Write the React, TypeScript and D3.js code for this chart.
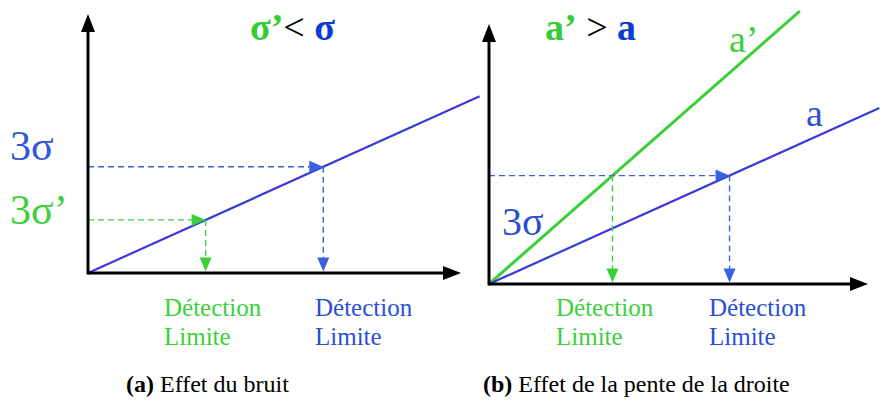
import React from 'react';
import * as d3 from 'd3';

// concentration (x) and signal (y), arbitrary units 0..10
const xDomain = [0, 10];
const yDomain = [0, 10];

// panel (a): effect of noise
const slopeA = 0.65;
const lineEndA = 10.5;
const noiseLevels = [
  { name: '3σ', value: 4.1, color: '#2f57d9' },
  { name: '3σ’', value: 2.05, color: '#3ccf3c' },
];

// panel (b): effect of the slope
const slopes = [
  { name: 'a’', value: 1.28, end: 8.2, color: '#3ccf3c', labelColor: '#3ccf3c' },
  { name: 'a', value: 0.657, end: 10.3, color: '#3a3ad6', labelColor: '#2a4fd0' },
];
const noiseB = 4.17;

const detectionLines = ['Détection', 'Limite'];
const captions = ['Effet du bruit', 'Effet de la pente de la droite'];
const captionTags = ['(a)', '(b)'];

const BLACK = '#000';
const DASH_BLUE = '#3a62e0';
const DASH_GREEN = '#3ccf3c';
const LINE_BLUE = '#3a3ad6';

function Axes({ x, y }) {
  const x0 = x(0), y0 = y(0);
  const x1 = x(xDomain[1]), y1 = y(yDomain[1]);
  return (
    <g>
      <line x1={x0} y1={y0} x2={x1 - 12} y2={y0} stroke={BLACK} strokeWidth={3} />
      <path d={`M${x1},${y0} L${x1 - 18},${y0 - 7} L${x1 - 18},${y0 + 7} Z`} fill={BLACK} />
      <line x1={x0} y1={y0 + 1.5} x2={x0} y2={y1 + 12} stroke={BLACK} strokeWidth={3} />
      <path d={`M${x0},${y1} L${x0 - 7},${y1 + 18} L${x0 + 7},${y1 + 18} Z`} fill={BLACK} />
    </g>
  );
}

function HArrow({ x, y, level, xTip, color }) {
  const ty = y(level);
  const tx = x(xTip);
  return (
    <g>
      <line x1={x(0)} y1={ty} x2={tx - 12} y2={ty} stroke={color} strokeWidth={1.4} strokeDasharray="6,4" />
      <path d={`M${tx},${ty} L${tx - 14},${ty - 6} L${tx - 14},${ty + 6} Z`} fill={color} />
    </g>
  );
}

function VArrow({ x, y, level, xTip, color }) {
  const tx = x(xTip);
  const ty = y(level);
  const by = y(0) - 1.5;
  return (
    <g>
      <line x1={tx} y1={ty} x2={tx} y2={by - 12} stroke={color} strokeWidth={1.4} strokeDasharray="6,4" />
      <path d={`M${tx},${by} L${tx - 6},${by - 14} L${tx + 6},${by - 14} Z`} fill={color} />
    </g>
  );
}

function DetectionLabel({ x0, color }) {
  return (
    <g>
      <text x={x0} y={316} fontSize={25} fill={color}>{detectionLines[0]}</text>
      <text x={x0} y={345} fontSize={25} fill={color}>{detectionLines[1]}</text>
    </g>
  );
}

export default function App() {
  // panel (a) scales
  const xa = d3.scaleLinear().domain(xDomain).range([88, 461]);
  const ya = d3.scaleLinear().domain(yDomain).range([273, 14]);
  // panel (b) scales
  const xb = d3.scaleLinear().domain(xDomain).range([489, 868]);
  const yb = d3.scaleLinear().domain(yDomain).range([284, 24]);

  const lineA = d3.line<number>().x(d => xa(d)).y(d => ya(d * slopeA));
  const mkLineB = (s: number) => d3.line<number>().x(d => xb(d)).y(d => yb(d * s));

  return (
    <svg width={893} height={405} style={{ position: 'absolute', left: 0, top: 0 }}>
      <style>{`text { font-family: 'Liberation Serif', 'Times New Roman', serif; }`}</style>

      {/* panel (a) */}
      <path d={lineA([0, lineEndA]) || ''} stroke={LINE_BLUE} strokeWidth={2.2} fill="none" />
      {noiseLevels.map((n, i) => {
        const c = i === 0 ? DASH_BLUE : DASH_GREEN;
        const xl = n.value / slopeA;
        return (
          <g key={n.name}>
            <HArrow x={xa} y={ya} level={n.value} xTip={xl} color={c} />
            <VArrow x={xa} y={ya} level={n.value} xTip={xl} color={c} />
          </g>
        );
      })}
      <Axes x={xa} y={ya} />
      <text x={10} y={160} fontSize={42} fill={noiseLevels[0].color}>{noiseLevels[0].name}</text>
      <text x={10} y={224} fontSize={42} fill={noiseLevels[1].color}>{noiseLevels[1].name}</text>
      <text x={250} y={40} fontSize={38}>
        <tspan fill="#33cc33" fontWeight="bold">σ’</tspan>
        <tspan fill={BLACK}>&lt; </tspan>
        <tspan fill="#0a3dd0" fontWeight="bold">σ</tspan>
      </text>
      <DetectionLabel x0={164} color="#3ccf3c" />
      <DetectionLabel x0={315} color="#2a4fd6" />

      {/* panel (b) */}
      {slopes.map(s => (
        <path key={s.name} d={mkLineB(s.value)([0, s.end]) || ''} stroke={s.color} strokeWidth={s.name === 'a' ? 2.2 : 3} fill="none" />
      ))}
      <HArrow x={xb} y={yb} level={noiseB} xTip={noiseB / slopes[1].value} color={DASH_BLUE} />
      <VArrow x={xb} y={yb} level={noiseB} xTip={noiseB / slopes[1].value} color={DASH_BLUE} />
      <VArrow x={xb} y={yb} level={noiseB} xTip={noiseB / slopes[0].value} color={DASH_GREEN} />
      <Axes x={xb} y={yb} />
      <text x={502} y={235} fontSize={40} fill="#2a4fd0">3σ</text>
      <text x={729} y={52} fontSize={38} fill={slopes[0].labelColor}>{slopes[0].name}</text>
      <text x={806} y={126} fontSize={38} fill={slopes[1].labelColor}>{slopes[1].name}</text>
      <text x={545} y={40} fontSize={38}>
        <tspan fill="#33cc33" fontWeight="bold">a’</tspan>
        <tspan fill={BLACK}> &gt; </tspan>
        <tspan fill="#0a3dd0" fontWeight="bold">a</tspan>
      </text>
      <DetectionLabel x0={556} color="#3ccf3c" />
      <DetectionLabel x0={709} color="#2a4fd6" />

      {/* captions */}
      {captions.map((c, i) => (
        <text key={c} x={i === 0 ? 126 : 483} y={392} fontSize={24} fill={BLACK}>
          <tspan fontWeight="bold">{captionTags[i]}</tspan>
          <tspan> {c}</tspan>
        </text>
      ))}
    </svg>
  );
}
